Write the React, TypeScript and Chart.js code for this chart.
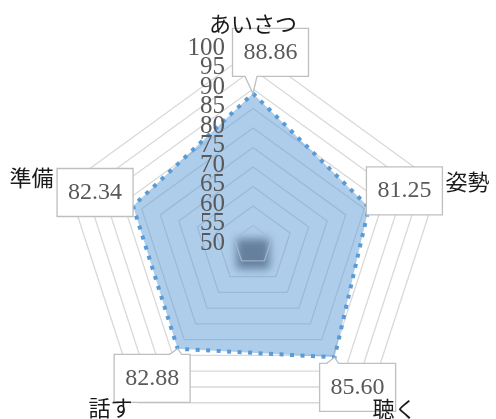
import { useEffect, useRef } from "react";
import { Chart, registerables } from "chart.js";

Chart.register(...registerables);

const categories = ["あいさつ", "姿勢", "聴く", "話す", "準備"];
const scores = [88.86, 81.25, 85.6, 82.88, 82.34];
const tickValues = [50, 55, 60, 65, 70, 75, 80, 85, 90, 95, 100];
const axisMin = 50;
const axisMax = 100;
const axisStep = 5;

// style config (not data)
const catLabelStyle = [
  { dx: 0, dy: -26, align: "center" },
  { dx: 7, dy: -3, align: "left" },
  { dx: 5, dy: 6, align: "left" },
  { dx: -6, dy: 5, align: "right" },
  { dx: -14, dy: -7, align: "right" },
];
const boxOffsets = [
  [17.5, -41],
  [35.5, -16.4],
  [23, 30],
  [-25.5, 29.6],
  [-38, -13.5],
];
const BOX_W = 76;
const BOX_H = 48;

const decorPlugin = {
  id: "decor",
  afterDatasetsDraw(chart: any) {
    const ctx = chart.ctx;
    const r = chart.scales.r;
    const cx = r.xCenter;
    const cy = r.yCenter;
    const r55 = r.getDistanceFromCenterForValue(tickValues[1]);

    // center shadow
    ctx.save();
    ctx.filter = "blur(4px)";
    ctx.fillStyle = "rgba(30,50,80,0.5)";
    const w = r55 * 1.7;
    const h = r55 * 1.55;
    ctx.fillRect(cx - w / 2, cy + r55 * 0.45 - h / 2, w, h);
    ctx.restore();
    // inner ring re-stroked over shadow
    ctx.save();
    ctx.beginPath();
    for (let i = 0; i < categories.length; i++) {
      const p = r.getPointPosition(i, r55);
      if (i === 0) ctx.moveTo(p.x, p.y);
      else ctx.lineTo(p.x, p.y);
    }
    ctx.closePath();
    ctx.strokeStyle = "rgba(170,195,220,0.8)";
    ctx.lineWidth = 1.3;
    ctx.stroke();
    ctx.restore();

    // tick labels
    ctx.save();
    ctx.font = "25px 'Liberation Serif', serif";
    ctx.fillStyle = "#595959";
    ctx.textAlign = "right";
    ctx.textBaseline = "middle";
    tickValues.forEach((v) => {
      const d = r.getDistanceFromCenterForValue(v);
      ctx.fillText(String(v), cx - 28, cy - d - 2);
    });
    ctx.restore();

    // data label callouts
    const meta = chart.getDatasetMeta(0);
    ctx.save();
    meta.data.forEach((pt: any, i: number) => {
      const px = pt.x;
      const py = pt.y;
      const bx = px + boxOffsets[i][0];
      const by = py + boxOffsets[i][1];
      const l = bx - BOX_W / 2;
      const rr = bx + BOX_W / 2;
      const t = by - BOX_H / 2;
      const b = by + BOX_H / 2;
      const clampX = (x: number) => Math.max(l + 6, Math.min(rr - 18, x));
      ctx.beginPath();
      if (py > b) {
        const x0 = clampX(px - 8);
        ctx.moveTo(l, t);
        ctx.lineTo(rr, t);
        ctx.lineTo(rr, b);
        ctx.lineTo(x0 + 12, b);
        ctx.lineTo(px, py);
        ctx.lineTo(x0, b);
        ctx.lineTo(l, b);
        ctx.closePath();
      } else if (py < t) {
        const x0 = clampX(px - 8);
        ctx.moveTo(l, t);
        ctx.lineTo(x0, t);
        ctx.lineTo(px, py);
        ctx.lineTo(x0 + 12, t);
        ctx.lineTo(rr, t);
        ctx.lineTo(rr, b);
        ctx.lineTo(l, b);
        ctx.closePath();
      } else {
        ctx.rect(l, t, BOX_W, BOX_H);
      }
      ctx.fillStyle = "#ffffff";
      ctx.fill();
      ctx.strokeStyle = "#bfbfbf";
      ctx.lineWidth = 1.3;
      ctx.stroke();
      ctx.font = "24px 'Liberation Serif', serif";
      ctx.fillStyle = "#595959";
      ctx.textAlign = "center";
      ctx.textBaseline = "middle";
      ctx.fillText(scores[i].toFixed(2), bx, by);
    });
    ctx.restore();

    // category labels (on top)
    ctx.save();
    ctx.font = "22px 'Noto Sans CJK JP', sans-serif";
    ctx.fillStyle = "#1a1a1a";
    ctx.textBaseline = "middle";
    categories.forEach((c, i) => {
      const p = r.getPointPosition(i, r.drawingArea);
      const s = catLabelStyle[i];
      ctx.textAlign = s.align;
      ctx.fillText(c, p.x + s.dx, p.y + s.dy);
    });
    ctx.restore();
  },
};

export default function App() {
  const ref = useRef<HTMLCanvasElement>(null);
  useEffect(() => {
    if (!ref.current) return;
    const chart = new Chart(ref.current, {
      type: "radar",
      data: {
        labels: categories,
        datasets: [
          {
            data: scores,
            backgroundColor: "rgba(91,155,213,0.5)",
            borderColor: "#5b9bd5",
            borderWidth: 4,
            borderDash: [4, 6.5],
            borderCapStyle: "butt",
            pointRadius: 0,
            pointHoverRadius: 0,
            fill: true,
            tension: 0,
          } as any,
        ],
      },
      options: {
        responsive: false,
        animation: false,
        devicePixelRatio: 1,
        layout: { padding: { left: 58, right: 48, top: 50, bottom: 60 } },
        plugins: { legend: { display: false }, tooltip: { enabled: false } },
        scales: {
          r: {
            min: axisMin,
            max: axisMax,
            ticks: { stepSize: axisStep, display: false },
            grid: { color: "#d9d9d9", lineWidth: 1.3 },
            angleLines: { display: false },
            pointLabels: { display: false },
          },
        },
      } as any,
      plugins: [decorPlugin],
    });
    return () => chart.destroy();
  }, []);
  return (
    <div
      style={{
        position: "fixed",
        left: 0,
        top: 0,
        width: 496,
        height: 419,
        overflow: "hidden",
        background: "#fff",
      }}
    >
      <canvas ref={ref} width={496} height={500} style={{ display: "block" }} />
    </div>
  );
}
